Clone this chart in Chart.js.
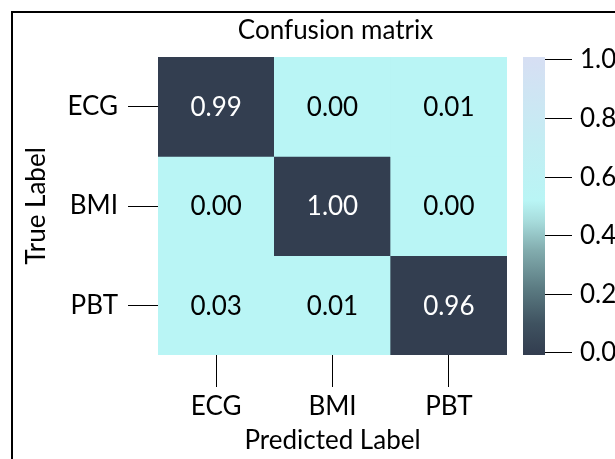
<!DOCTYPE html>
<html>
<head>
<meta charset="utf-8">
<script src="https://cdn.jsdelivr.net/npm/chart.js@4/dist/chart.umd.min.js"></script>
<style>
  html, body { margin: 0; padding: 0; background: #fff; }
  #wrap { position: relative; width: 615px; height: 459px; overflow: hidden; background: #fff; }
  #frame { position: absolute; left: 11px; top: 11px; width: 700px; height: 600px;
           border-left: 2px solid #000; border-top: 2px solid #000; }
  #main { position: absolute; left: 0; top: 0; }
  #cbar { position: absolute; left: 500px; top: 0; }
</style>
</head>
<body>
<div id="wrap">
  <div id="frame"></div>
  <canvas id="main" width="615" height="459"></canvas>
  <canvas id="cbar" width="140" height="459"></canvas>
</div>
<script>
// ---- data ----
const predictedLabels = ['ECG', 'BMI', 'PBT'];
const trueLabels = ['ECG', 'BMI', 'PBT'];
const rowECG = [0.99, 0.00, 0.01];
const rowBMI = [0.00, 1.00, 0.00];
const rowPBT = [0.03, 0.01, 0.96];
const matrixRows = [rowECG, rowBMI, rowPBT];
const colorbarTicks = [0.0, 0.2, 0.4, 0.6, 0.8, 1.0];
const chartTitle = 'Confusion matrix';
const xTitle = 'Predicted Label';
const yTitle = 'True Label';

// ---- style ----
const FONT = 'Lato';
const FS = 26;
const DARK = '#333e50';
const CYAN = '#b9f5f5';
const cellColor = v => (v >= 0.5 ? DARK : CYAN);
const textColor = v => (v >= 0.5 ? '#ffffff' : '#000000');

const datasets = matrixRows.map((row, i) => ({
  label: trueLabels[i],
  data: row.map(() => [i - 0.5, i + 0.5]),
  values: row,
  backgroundColor: row.map(cellColor),
  borderWidth: 0,
  barPercentage: 1,
  categoryPercentage: 1,
  grouped: false
}));

const cellTextPlugin = {
  id: 'cellText',
  afterDatasetsDraw(chart) {
    const ctx = chart.ctx;
    ctx.save();
    ctx.font = FS + 'px ' + FONT;
    ctx.textAlign = 'center';
    ctx.textBaseline = 'middle';
    chart.data.datasets.forEach((ds, i) => {
      const meta = chart.getDatasetMeta(i);
      meta.data.forEach((bar, j) => {
        const p = bar.getProps(['x', 'y', 'base'], true);
        const v = ds.values[j];
        ctx.fillStyle = textColor(v);
        ctx.fillText(v.toFixed(2), p.x, (p.y + p.base) / 2 + 1);
      });
    });
    ctx.restore();
  }
};

const titlePlugin = {
  id: 'topTitle',
  afterDraw(chart) {
    const ctx = chart.ctx;
    const a = chart.chartArea;
    ctx.save();
    ctx.font = FS + 'px ' + FONT;
    ctx.fillStyle = '#000';
    ctx.textAlign = 'center';
    ctx.textBaseline = 'middle';
    ctx.fillText(chartTitle, (a.left + a.right) / 2 + 3, 31);
    ctx.restore();
  }
};

new Chart(document.getElementById('main'), {
  type: 'bar',
  data: { labels: predictedLabels, datasets },
  options: {
    responsive: false,
    animation: false,
    layout: { padding: { left: 0, top: 57, right: 108, bottom: 0 } },
    plugins: { legend: { display: false }, tooltip: { enabled: false }, title: { display: false } },
    scales: {
      x: {
        type: 'category',
        offset: true,
        grid: { display: true, offset: false, drawOnChartArea: false, drawTicks: true,
                tickLength: 32, color: '#000', lineWidth: 1 },
        border: { display: false },
        ticks: { color: '#000', font: { family: FONT, size: FS }, padding: 4, maxRotation: 0 },
        title: { display: true, text: xTitle, color: '#000', font: { family: FONT, size: FS },
                 padding: { top: 0, bottom: 3 } },
        afterFit(scale) { scale.height = 104; }
      },
      y: {
        type: 'linear',
        reverse: true,
        min: -0.5,
        max: 2.5,
        afterBuildTicks(scale) { scale.ticks = trueLabels.map((_, i) => ({ value: i })); },
        grid: { display: true, drawOnChartArea: false, drawTicks: true,
                tickLength: 30, color: '#000', lineWidth: 1 },
        border: { display: false },
        ticks: { color: '#000', font: { family: FONT, size: FS }, padding: 10,
                 callback: v => trueLabels[v] },
        title: { display: true, text: yTitle, color: '#000', font: { family: FONT, size: FS },
                 padding: { top: 21, bottom: 0 } },
        afterFit(scale) { scale.width = 158; }
      }
    }
  },
  plugins: [cellTextPlugin, titlePlugin]
});

// ---- colorbar ----
function cbarGradient(context) {
  const chart = context.chart;
  const a = chart.chartArea;
  if (!a) return DARK;
  const ys = chart.scales.y;
  const g = chart.ctx.createLinearGradient(0, ys.getPixelForValue(0), 0, ys.getPixelForValue(1));
  g.addColorStop(0.00, '#333e50');
  g.addColorStop(0.10, '#3f5260');
  g.addColorStop(0.22, '#5b7b82');
  g.addColorStop(0.35, '#82acae');
  g.addColorStop(0.45, '#a7dcdc');
  g.addColorStop(0.52, '#b9f5f5');
  g.addColorStop(0.70, '#c2eef3');
  g.addColorStop(1.00, '#d6dff3');
  return g;
}

new Chart(document.getElementById('cbar'), {
  type: 'bar',
  data: {
    labels: ['cb'],
    datasets: [{ data: [[-0.007, 1.01]], backgroundColor: cbarGradient, borderWidth: 0,
                 barPercentage: 1, categoryPercentage: 1 }]
  },
  options: {
    responsive: false,
    animation: false,
    layout: { padding: { left: 23, top: 57, right: 0, bottom: 104 } },
    plugins: { legend: { display: false }, tooltip: { enabled: false } },
    scales: {
      x: { display: false },
      y: {
        position: 'right',
        min: -0.007,
        max: 1.01,
        afterBuildTicks(scale) { scale.ticks = colorbarTicks.map(v => ({ value: v })); },
        grid: { display: true, drawOnChartArea: false, drawTicks: true,
                tickLength: 27, color: '#000', lineWidth: 1 },
        border: { display: false },
        ticks: { color: '#000', font: { family: FONT, size: FS }, padding: 8,
                 callback: v => Number(v).toFixed(1) },
        afterFit(scale) { scale.width = 95; }
      }
    }
  }
});
</script>
</body>
</html>
